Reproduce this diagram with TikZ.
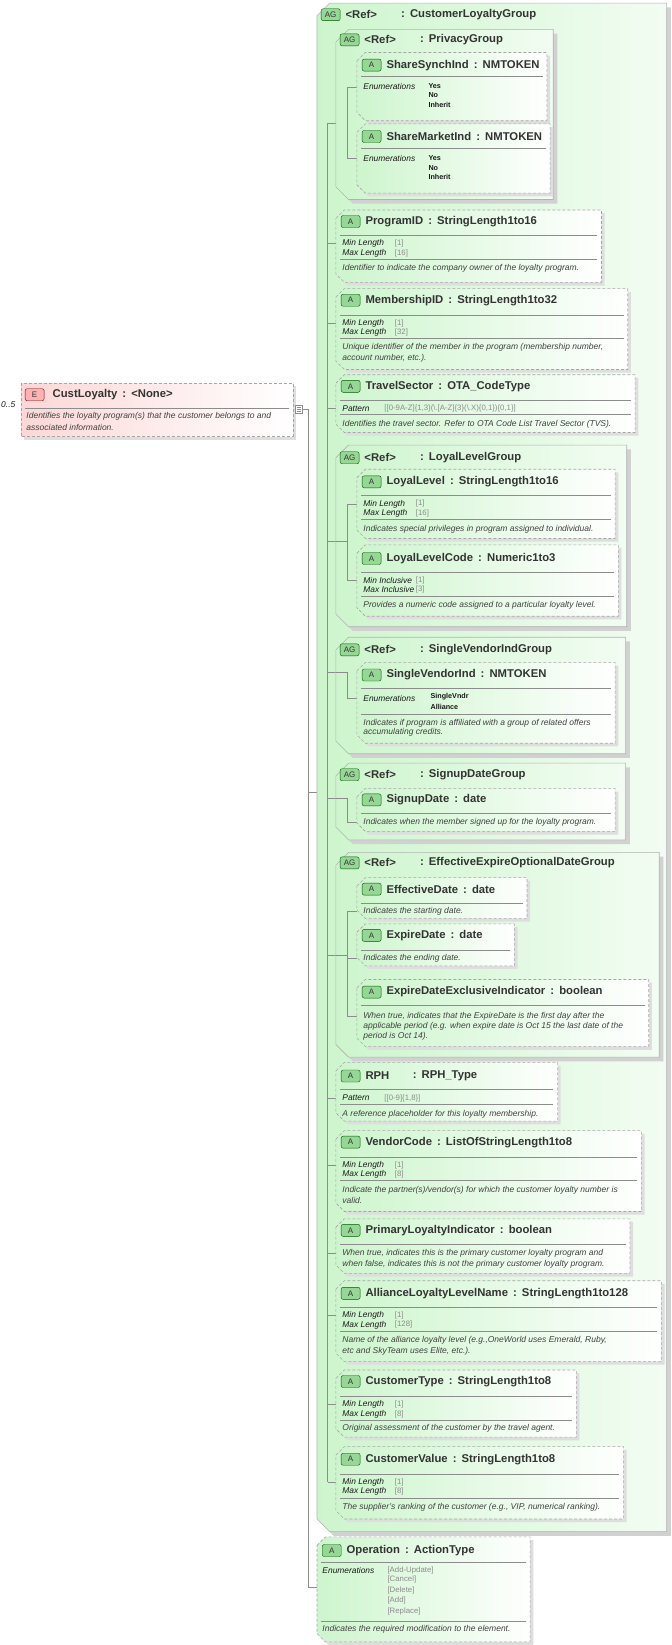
\documentclass[tikz,border=0pt]{standalone}
\usepackage{fontspec}
\setmainfont{Liberation Sans}
\usetikzlibrary{shadings}
\definecolor{agreen}{RGB}{205,245,205}
\definecolor{bgreen}{RGB}{150,215,150}
\definecolor{epink}{RGB}{253,215,215}
\newcounter{nd}
\tikzset{
 ttl/.style={inner sep=0pt,anchor=west,text=black!80,font=\fontsize{11.3}{13}\selectfont\bfseries},
 lbl/.style={inner sep=0pt,anchor=west,text=black!90,font=\fontsize{8.4}{9}\selectfont\itshape},
 dsc/.style={inner sep=0pt,anchor=west,text=black!75,font=\fontsize{8.5}{9}\selectfont\itshape},
 val/.style={inner sep=0pt,anchor=west,text=black!45,font=\fontsize{7.8}{9}\selectfont},
 enm/.style={inner sep=0pt,anchor=west,text=black!90,font=\fontsize{7.2}{8}\selectfont\bfseries},
 bdg/.style={draw=green!35!black,fill=bgreen,rounded corners=2pt,inner sep=0pt,minimum width=19pt,minimum height=12pt,font=\fontsize{8}{9}\selectfont,text=black!80},
 sep/.style={draw=black!45,line width=0.5pt},
 con/.style={draw=black!45,line width=0.5pt},
}
\newcommand\Abox[4]{%
 \fill[black!13] ({#1+3},{#2+11}) -- ({#1+11},{#2+3}) -- ({#3+3},{#2+3}) -- ({#3+3},{#4+3}) -- ({#1+11},{#4+3}) -- ({#1+3},{#4-5}) -- cycle;
 \path[left color=agreen,right color=white,draw=black!35,dash pattern=on 3pt off 2pt,line width=0.6pt] (#1,{#2+8}) -- ({#1+8},#2) -- (#3,#2) -- (#3,#4) -- ({#1+8},#4) -- (#1,{#4-8}) -- cycle;}
\newcommand\Gbox[4]{%
 \fill[black!18] ({#1+4},{#2+16}) -- ({#1+16},{#2+4}) -- ({#3+4},{#2+4}) -- ({#3+4},{#4+4}) -- ({#1+16},{#4+4}) -- ({#1+4},{#4-8}) -- cycle;
 \path[left color=agreen,right color=agreen!25!white,draw=black!30,line width=0.6pt] (#1,{#2+12}) -- ({#1+12},#2) -- (#3,#2) -- (#3,#4) -- ({#1+12},#4) -- (#1,{#4-12}) -- cycle;}
\newcommand\Bd[3]{\stepcounter{nd}\node[bdg] (b\thend) at (#1,#2) {#3};}
\newcommand\Tt[3]{\stepcounter{nd}\node[ttl] (t\thend) at (#1,#2) {#3};}
\newcommand\Lb[3]{\stepcounter{nd}\node[lbl] (l\thend) at (#1,#2) {#3};}
\newcommand\Ds[3]{\stepcounter{nd}\node[dsc] (d\thend) at (#1,#2) {#3};}
\newcommand\Vl[3]{\stepcounter{nd}\node[val] (v\thend) at (#1,#2) {#3};}
\newcommand\En[3]{\stepcounter{nd}\node[enm] (e\thend) at (#1,#2) {#3};}
\newcommand\Sp[3]{\draw[sep] ({#1+4},#3) -- ({#2-4},#3);}
\newcommand\cl{\hspace{0.45em}:\hspace{0.45em}}
\newcommand\Att[7]{\Abox{#1}{#2}{#3}{#4}\Bd{#1+14}{#5}{A}\Tt{#1+28}{#5}{#7}\Sp{#1}{#3}{#6}}
\newcommand\Grp[6]{\Gbox{#1}{#2}{#3}{#4}\Bd{#1+13}{#5}{AG}\Tt{#1+27}{#5}{<Ref>}\Tt{#1+80}{#5}{:\hspace{0.45em}#6}}
\newcommand\MinMax[5]{\Lb{#1+6}{#2}{#4}\Lb{#1+6}{#2+9}{#5}\Vl{#1+56}{#2}{[#3]}}
\begin{document}
\begin{tikzpicture}[x=1.05pt,y=-1.05pt]
\useasboundingbox (0,0) rectangle (640,1567);
% ===== element
\fill[black!13] (23,368) rectangle (282,419);
\path[left color=epink,right color=white,draw=black!35,dash pattern=on 3pt off 2pt,line width=0.6pt] (20,365) rectangle (279,416);
\node[bdg,draw=red!50!black,fill=red!30!white] (ebadge) at (33,376) {E};
\Tt{50}{376}{CustLoyalty\cl<None>}
\Sp{20}{279}{389}
\Ds{25}{397}{Identifies the loyalty program(s) that the customer belongs to and}
\Ds{25}{407}{associated information.}
\node[lbl] (occ) at (1,385) {0..5};
\draw[con,fill=white] (281,386) rectangle (288,394);
\draw[con] (282.5,388) -- (286.5,388) (282.5,390) -- (286.5,390) (282.5,392) -- (286.5,392);
\coordinate (seqout) at (288,390);
\draw[con] (seqout) -- (294,390) -- (294,1512) -- (302,1512);
\draw[con] (294,755) -- (302,755);
% ===== CustomerLoyaltyGroup
\Grp{302}{3}{635}{1459}{14}{CustomerLoyaltyGroup}
\draw[con] (312,117) -- (312,1412);
\foreach \yy in {117,232,308,389,516,640,760,910,1046,1110,1194,1253,1338,1412} {\draw[con] (312,\yy) -- (320,\yy);}
% PrivacyGroup
\Grp{320}{28}{527}{190}{38}{PrivacyGroup}
\draw[con] (331,117) -- (331,83) -- (340,83) (331,117) -- (331,151) -- (340,151);
\Att{340}{50}{521}{115}{62}{73}{ShareSynchInd\cl NMTOKEN}
\Lb{346}{82}{Enumerations}\En{408}{82}{Yes}\En{408}{91}{No}\En{408}{100}{Inherit}
\Att{340}{118}{524}{184}{130}{141}{ShareMarketInd\cl NMTOKEN}
\Lb{346}{151}{Enumerations}\En{408}{151}{Yes}\En{408}{160}{No}\En{408}{169}{Inherit}
% ProgramID
\Att{320}{200}{573}{269}{211}{224}{ProgramID\cl StringLength1to16}
\MinMax{320}{232}{1}{Min Length}{Max Length}\Vl{376}{241}{[16]}
\Sp{320}{573}{247}
\Ds{326}{256}{Identifier to indicate the company owner of the loyalty program.}
% MembershipID
\Att{320}{275}{598}{352}{286}{300}{MembershipID\cl StringLength1to32}
\MinMax{320}{308}{1}{Min Length}{Max Length}\Vl{376}{317}{[32]}
\Sp{320}{598}{322}
\Ds{326}{331}{Unique identifier of the member in the program (membership number,}
\Ds{326}{341}{account number, etc.).}
% TravelSector
\Att{320}{357}{605}{412}{368}{381}{TravelSector\cl OTA\_CodeType}
\Lb{326}{389}{Pattern}\Vl{366}{389}{[[0-9A-Z]\{1,3\}(\textbackslash.[A-Z]\{3\}(\textbackslash.X)\{0,1\})\{0,1\}]}
\Sp{320}{605}{395}
\Ds{326}{404}{Identifies the travel sector. Refer to OTA Code List Travel Sector (TVS).}
% LoyalLevelGroup
\Grp{320}{424}{597}{597}{436}{LoyalLevelGroup}
\draw[con] (331,480) -- (331,553) (331,480) -- (340,480) (331,553) -- (340,553) (320,516) -- (331,516);
\Att{340}{447}{586}{513}{459}{472}{LoyalLevel\cl StringLength1to16}
\MinMax{340}{480}{1}{Min Length}{Max Length}\Vl{396}{489}{[16]}
\Sp{340}{586}{495}
\Ds{346}{504}{Indicates special privileges in program assigned to individual.}
\Att{340}{519}{589}{587}{532}{545}{LoyalLevelCode\cl Numeric1to3}
\MinMax{340}{553}{1}{Min Inclusive}{Max Inclusive}\Vl{396}{562}{[3]}
\Sp{340}{589}{568}
\Ds{346}{577}{Provides a numeric code assigned to a particular loyalty level.}
% SingleVendorIndGroup
\Grp{320}{607}{596}{718}{619}{SingleVendorIndGroup}
\draw[con] (320,640) -- (331,640) -- (331,665) -- (340,665);
\Att{340}{631}{586}{708}{643}{656}{SingleVendorInd\cl NMTOKEN}
\Lb{346}{665}{Enumerations}\En{410}{664}{SingleVndr}\En{410}{673}{Alliance}
\Sp{340}{586}{680}
\Ds{346}{689}{Indicates if program is affiliated with a group of related offers}
\Ds{346}{698}{accumulating credits.}
% SignupDateGroup
\Grp{320}{727}{596}{800}{738}{SignupDateGroup}
\draw[con] (320,760) -- (331,760) -- (331,783) -- (340,783);
\Att{340}{751}{586}{792}{762}{775}{SignupDate\cl date}
\Ds{346}{783}{Indicates when the member signed up for the loyalty program.}
% EffectiveExpireOptionalDateGroup
\Grp{320}{812}{628}{1007}{822}{EffectiveExpireOptionalDateGroup}
\draw[con] (331,868) -- (331,968) (331,868) -- (340,868) (331,913) -- (340,913) (331,968) -- (340,968) (320,910) -- (331,910);
\Att{340}{836}{502}{875}{847}{860}{EffectiveDate\cl date}
\Ds{346}{868}{Indicates the starting date.}
\Att{340}{880}{490}{920}{891}{905}{ExpireDate\cl date}
\Ds{346}{913}{Indicates the ending date.}
\Att{340}{933}{618}{997}{945}{958}{ExpireDateExclusiveIndicator\cl boolean}
\Ds{346}{968}{When true, indicates that the ExpireDate is the first day after the}
\Ds{346}{978}{applicable period (e.g. when expire date is Oct 15  the last date of the}
\Ds{346}{987}{period is Oct 14).}
% RPH
\Abox{320}{1012}{531}{1068}\Bd{334}{1025}{A}\Tt{348}{1025}{RPH}\Tt{393}{1025}{:\hspace{0.45em}RPH\_Type}\Sp{320}{531}{1038}
\Lb{326}{1046}{Pattern}\Vl{366}{1046}{[[0-9]\{1,8\}]}
\Sp{320}{531}{1052}
\Ds{326}{1061}{A reference placeholder for this loyalty membership.}
% VendorCode
\Att{320}{1077}{611}{1154}{1088}{1102}{VendorCode\cl ListOfStringLength1to8}
\MinMax{320}{1110}{1}{Min Length}{Max Length}\Vl{376}{1119}{[8]}
\Sp{320}{611}{1124}
\Ds{326}{1134}{Indicate the partner(s)/vendor(s) for which the customer loyalty number is}
\Ds{326}{1144}{valid.}
% PrimaryLoyaltyIndicator
\Att{320}{1161}{600}{1213}{1172}{1185}{PrimaryLoyaltyIndicator\cl boolean}
\Ds{326}{1194}{When true, indicates this is the primary customer loyalty program and}
\Ds{326}{1204}{when false, indicates this is not the primary customer loyalty program.}
% AllianceLoyaltyLevelName
\Att{320}{1220}{630}{1297}{1232}{1245}{AllianceLoyaltyLevelName\cl StringLength1to128}
\MinMax{320}{1253}{1}{Min Length}{Max Length}\Vl{376}{1262}{[128]}
\Sp{320}{630}{1268}
\Ds{326}{1277}{Name of the alliance loyalty level (e.g.,OneWorld  uses Emerald, Ruby,}
\Ds{326}{1287}{etc and SkyTeam uses Elite, etc.).}
% CustomerType
\Att{320}{1305}{549}{1369}{1316}{1330}{CustomerType\cl StringLength1to8}
\MinMax{320}{1338}{1}{Min Length}{Max Length}\Vl{376}{1347}{[8]}
\Sp{320}{549}{1353}
\Ds{326}{1361}{Original assessment of the customer by the travel agent.}
% CustomerValue
\Att{320}{1378}{594}{1447}{1390}{1404}{CustomerValue\cl StringLength1to8}
\MinMax{320}{1412}{1}{Min Length}{Max Length}\Vl{376}{1421}{[8]}
\Sp{320}{594}{1427}
\Ds{326}{1436}{The supplier's ranking of the customer (e.g., VIP, numerical ranking).}
% ===== Operation
\Att{302}{1464}{505}{1564}{1477}{1488}{Operation\cl ActionType}
\Lb{307}{1496}{Enumerations}\Vl{369}{1496}{[Add-Update]}\Vl{369}{1505}{[Cancel]}\Vl{369}{1515}{[Delete]}\Vl{369}{1525}{[Add]}\Vl{369}{1535}{[Replace]}
\Sp{302}{505}{1544}
\Ds{307}{1552}{Indicates the required modification to the element.}
\end{tikzpicture}
\end{document}
